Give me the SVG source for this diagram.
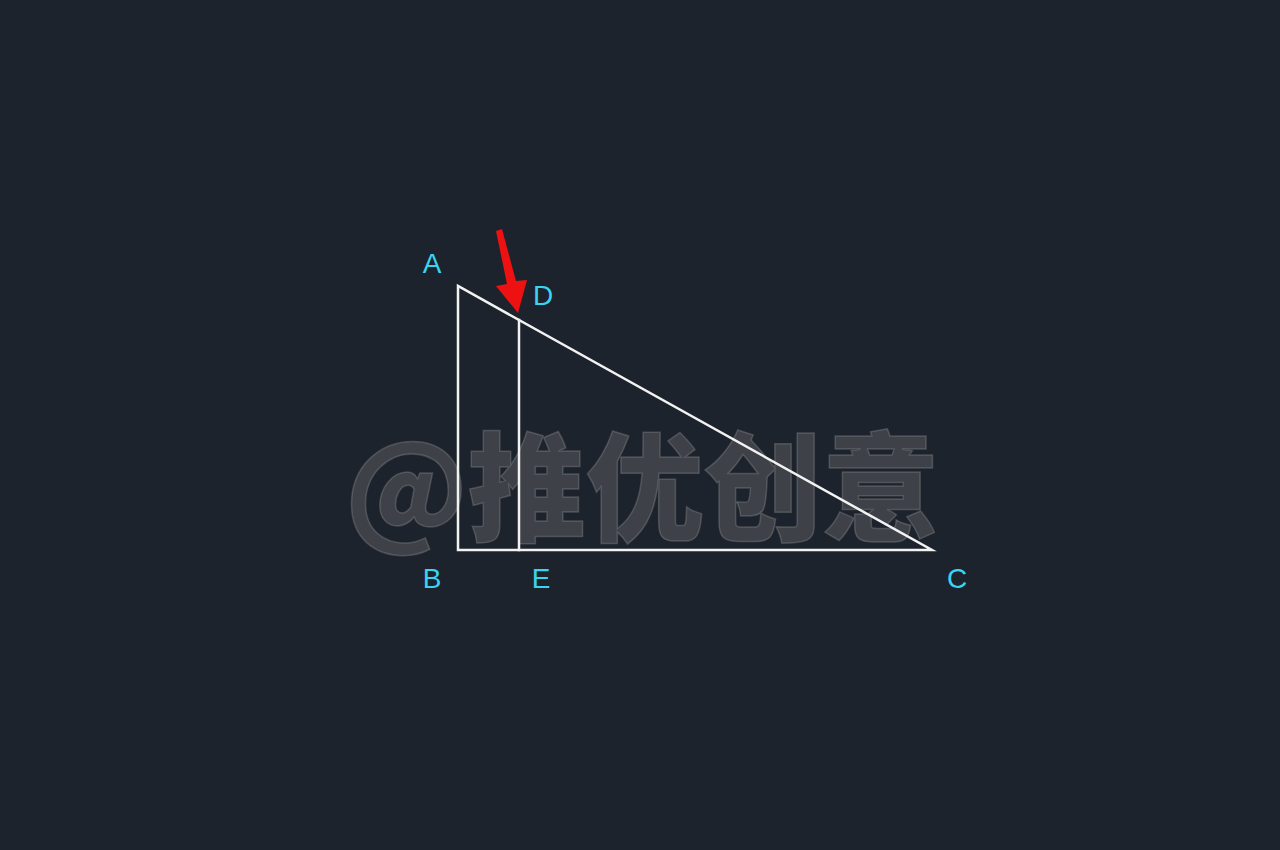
<svg xmlns="http://www.w3.org/2000/svg" width="1280" height="850" viewBox="0 0 1280 850">
<style>
.bg{fill:#1d232c}
.ln{stroke:#f2f2f2;stroke-width:2.5;fill:none;stroke-linecap:square}
.lbl{font-family:"Liberation Sans",Arial,sans-serif;font-size:28px;fill:#3ad3f2;text-anchor:middle}
.wm{font-family:"Noto Sans CJK SC","Noto Sans",sans-serif;font-weight:900;font-size:118px;fill:#8a8a8a;fill-opacity:0.3;stroke:#a0a0a0;stroke-opacity:0.3;stroke-width:1.5}
</style>
<rect class="bg" x="0" y="0" width="1280" height="850"/>
<g id="watermark"><text class="wm" x="345" y="532">@推优创意</text></g>
<g id="connectors">
<path class="ln" d="M458,286 L458,550 L932,550 Z"/>
<line class="ln" x1="519" y1="320" x2="519" y2="550"/>
</g>
<g id="arrow"><polygon fill="#ee1111" points="496,231 502,229 516,281 527,280 518,313 496,286 507,284"/></g>
<g id="A"><text class="lbl" x="432" y="273">A</text></g>
<g id="D"><text class="lbl" x="543" y="305">D</text></g>
<g id="B"><text class="lbl" x="432" y="588">B</text></g>
<g id="E"><text class="lbl" x="541" y="588">E</text></g>
<g id="C"><text class="lbl" x="957" y="588">C</text></g>
</svg>
